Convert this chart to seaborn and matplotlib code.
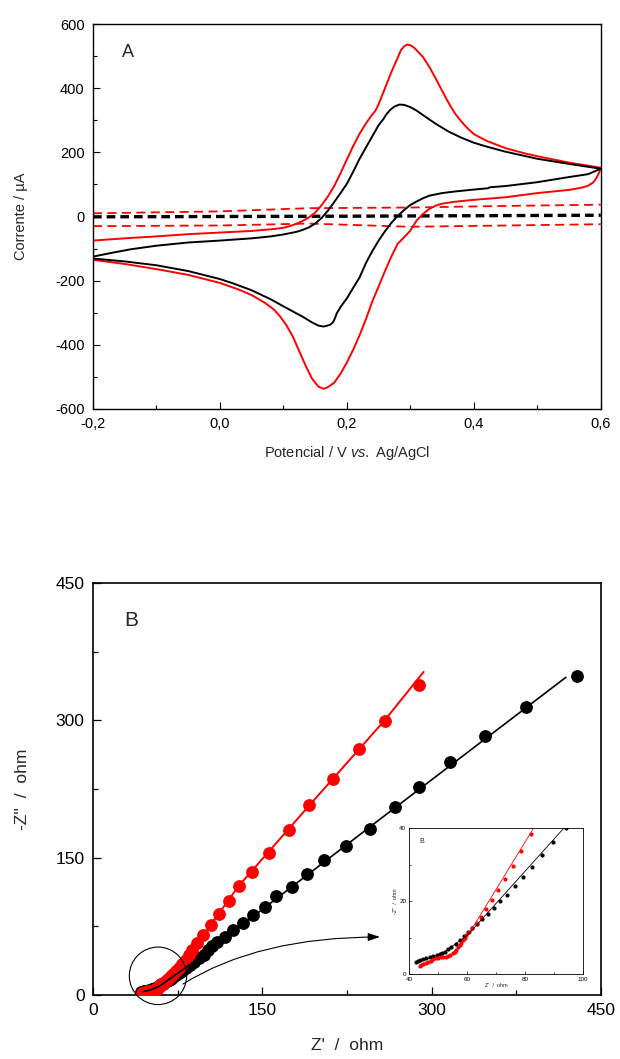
import numpy as np
import pandas as pd
import matplotlib
matplotlib.use('Agg')
import matplotlib.pyplot as plt
from matplotlib.ticker import MultipleLocator, FixedLocator, FuncFormatter
from matplotlib.patches import Ellipse
import seaborn as sns

# ---------------- Panel A data (cyclic voltammetry) ----------------
# black solid (bare electrode) - forward scan
E_black_fwd = [-0.2, -0.17, -0.14, -0.1, -0.05, 0.0, 0.05, 0.08, 0.1, 0.12, 0.13, 0.14, 0.15,
               0.16, 0.17, 0.18, 0.19, 0.2, 0.21, 0.22, 0.23, 0.24, 0.25, 0.258, 0.262,
               0.268, 0.275, 0.283, 0.29, 0.3, 0.31, 0.32, 0.34, 0.36, 0.38, 0.4, 0.42,
               0.45, 0.5, 0.55, 0.6]
I_black_fwd = [-125, -113, -102, -91, -81, -75, -68, -62, -56, -48, -42, -34, -22,
               -5, 18, 45, 73, 102, 140, 180, 215, 250, 285, 305, 318,
               332, 343, 349, 348, 341, 330, 316, 289, 265, 246, 230, 218,
               202, 180, 164, 149]
# black solid - reverse scan
E_black_rev = [0.6, 0.58, 0.55, 0.5, 0.45, 0.425, 0.422, 0.4, 0.37, 0.35, 0.33, 0.32, 0.31,
               0.3, 0.29, 0.28, 0.27, 0.26, 0.25, 0.24, 0.23, 0.22, 0.21, 0.2, 0.19,
               0.184, 0.181, 0.178, 0.174, 0.168, 0.163, 0.155, 0.145, 0.13, 0.115, 0.1,
               0.08, 0.05, 0.02, 0.0, -0.05, -0.1, -0.15, -0.2]
I_black_rev = [149, 132, 123, 107, 95, 91, 88, 84, 78, 73, 65, 57, 47,
               36, 20, 2, -20, -46, -75, -108, -145, -190, -222, -255, -282,
               -302, -318, -330, -337, -341, -343, -340, -330, -312, -296, -280,
               -258, -230, -208, -195, -170, -152, -140, -131]
# red solid (modified electrode) - forward scan
E_red_fwd = [-0.2, -0.15, -0.1, -0.05, 0.0, 0.05, 0.085, 0.1, 0.11, 0.12, 0.13, 0.14, 0.15,
             0.16, 0.17, 0.18, 0.19, 0.2, 0.21, 0.22, 0.23, 0.237, 0.245, 0.25, 0.26, 0.27,
             0.28, 0.285, 0.29, 0.295, 0.3, 0.305, 0.31, 0.32, 0.33, 0.34, 0.35, 0.36,
             0.37, 0.38, 0.39, 0.4, 0.42, 0.45, 0.48, 0.5, 0.55, 0.6]
I_red_fwd = [-75, -68, -62, -55, -50, -45, -39, -35, -30, -23, -14, -3, 12,
             35, 62, 95, 135, 178, 220, 258, 290, 310, 330, 350, 400, 450,
             495, 518, 530, 536, 534, 528, 518, 497, 466, 430, 392, 355,
             322, 297, 275, 257, 236, 213, 197, 188, 168, 152]
# red solid - reverse scan
E_red_rev = [0.6, 0.597, 0.593, 0.588, 0.58, 0.57, 0.55, 0.5, 0.45, 0.4, 0.37, 0.35, 0.34,
             0.33, 0.32, 0.31, 0.3, 0.29, 0.28, 0.27, 0.26, 0.25, 0.24, 0.23, 0.22, 0.21,
             0.2, 0.19, 0.18, 0.17, 0.163, 0.155, 0.145, 0.135, 0.125, 0.115, 0.105,
             0.095, 0.085, 0.07, 0.05, 0.03, 0.0, -0.05, -0.1, -0.15, -0.2]
I_red_rev = [152, 135, 120, 106, 96, 90, 83, 73, 60, 52, 46, 40, 34,
             24, 8, -12, -44, -65, -85, -125, -170, -218, -265, -320, -370, -415,
             -455, -490, -518, -532, -537, -530, -505, -465, -420, -375, -340,
             -312, -290, -268, -245, -228, -207, -182, -164, -148, -135]
# dashed (blank) curves
E_black_dash = [-0.2, 0.2, 0.6]
I_black_dash = [-1, 1, 4]
E_red_dash_up = [-0.2, 0.0, 0.14, 0.3, 0.45, 0.6]
I_red_dash_up = [10, 16, 26, 28, 33, 37]
E_red_dash_lo = [-0.2, 0.0, 0.14, 0.3, 0.45, 0.6]
I_red_dash_lo = [-30, -28, -22, -32, -28, -24]

A_xticks = [-0.2, 0.0, 0.2, 0.4, 0.6]
A_yticks = [-600, -400, -200, 0, 200, 400, 600]

# ---------------- Panel B data (Nyquist) ----------------
zre_black = [42.5, 43.1, 43.7, 44.8, 46.0, 47.1, 48.3, 49.5, 50.6, 51.5, 52.3, 53.4, 54.6,
             56.1, 57.5, 58.9, 60.3, 61.8, 63.4, 65.3, 67.2, 69.2, 71.3, 73.8, 76.4, 79.3,
             82.5, 86.0, 89.7, 94.0, 98.0, 101.5, 105.1, 110.1, 116.9, 124.3, 133.2, 142.0,
             152.4, 162.5, 176.3, 189.5, 204.4, 224.0, 245.3, 267.8, 289.2, 316.0, 347.1,
             383.9, 429.3]
zim_black = [3.4, 3.6, 3.8, 4.1, 4.5, 4.7, 4.9, 5.2, 5.5, 5.8, 6.1, 7.0, 7.5,
             8.2, 9.3, 10.4, 11.6, 12.5, 13.7, 15.0, 16.4, 18.0, 19.9, 21.7, 24.0, 26.5,
             29.3, 32.6, 36.2, 40.0, 44.2, 48.8, 53.6, 58.4, 63.8, 71.2, 78.5, 87.6,
             96.6, 108.0, 118.5, 132.2, 147.1, 162.4, 181.8, 205.2, 227.2, 254.3, 282.8,
             314.3, 349.0]
zre_red = [43.7, 44.3, 44.8, 45.7, 46.6, 47.5, 48.3, 49.2, 50.0, 50.9, 51.7, 52.6, 53.4,
           54.3, 55.2, 55.8, 56.3, 56.9, 57.5, 58.0, 58.6, 59.2, 59.8, 60.8, 61.8, 63.4,
           64.9, 66.7, 68.7, 70.7, 73.2, 75.9, 78.6, 82.2, 84.9, 87.6, 91.8, 97.7, 104.5,
           111.9, 120.5, 129.0, 140.8, 156.3, 173.4, 191.6, 212.4, 235.5, 258.4, 288.5]
zim_red = [2.2, 2.5, 2.7, 3.0, 3.4, 3.7, 4.0, 4.3, 4.5, 4.6, 4.6, 4.7, 4.9,
           5.2, 5.7, 6.1, 6.6, 7.3, 8.0, 8.6, 9.3, 10.0, 10.7, 11.6, 12.5, 13.9,
           15.7, 17.8, 20.3, 22.9, 26.1, 29.7, 33.7, 38.4, 43.8, 49.3, 56.6, 65.7, 76.6,
           88.4, 102.2, 119.5, 134.8, 155.5, 180.0, 207.1, 236.3, 268.9, 299.6, 338.8]
# fitted lines
fit_black_x = [44.0, 52.0, 60.0, 94.0, 250.0, 419.0]
fit_black_y = [3.5, 6.0, 10.5, 40.5, 188.0, 347.0]
fit_red_x = [61.0, 83.0, 129.0, 191.6, 258.4, 293.0]
fit_red_y = [11.5, 40.0, 119.0, 207.0, 300.0, 353.0]

B_ticks = [0, 150, 300, 450]
I_xticks = [40, 60, 80, 100]
I_yticks = [0, 20, 40]

RED = '#ff0000'
BLACK = '#000000'

# ---------------- style ----------------
sns.set_style('ticks')
plt.rcParams['font.family'] = ['Liberation Sans', 'DejaVu Sans']
plt.rcParams['axes.unicode_minus'] = False
plt.rcParams['mathtext.fontset'] = 'custom'
plt.rcParams['mathtext.rm'] = 'Liberation Sans'
plt.rcParams['mathtext.it'] = 'Liberation Sans:italic'

fig = plt.figure(figsize=(6.2, 10.59), dpi=100)
axA = fig.add_axes([0.150, 0.6138, 0.819, 0.3635])
axB = fig.add_axes([0.150, 0.0604, 0.819, 0.389])
axI = fig.add_axes([0.6597, 0.0802, 0.2806, 0.1379])


def line(ax, x, y, color, lw, z=2):
    df = pd.DataFrame({'x': x, 'y': y})
    sns.lineplot(data=df, x='x', y='y', sort=False, estimator=None, color=color,
                 lw=lw, ax=ax, zorder=z, legend=False)
    ln = ax.lines[-1]
    ln.set_solid_joinstyle('round')
    return ln


# ---------------- Panel A ----------------
l = line(axA, E_black_dash, I_black_dash, BLACK, 2.4)
l.set_dashes((2.6, 1.5))
l = line(axA, E_red_dash_up, I_red_dash_up, RED, 1.3)
l.set_dashes((5.0, 3.0))
l = line(axA, E_red_dash_lo, I_red_dash_lo, RED, 1.3)
l.set_dashes((5.0, 3.0))
line(axA, E_red_fwd + E_red_rev, I_red_fwd + I_red_rev, RED, 1.4)
line(axA, E_black_fwd + E_black_rev, I_black_fwd + I_black_rev, BLACK, 1.4)

axA.set_xlim(-0.2, 0.6)
axA.set_ylim(-600, 600)
axA.xaxis.set_major_locator(FixedLocator(A_xticks))
axA.xaxis.set_minor_locator(MultipleLocator(0.1))
axA.yaxis.set_major_locator(FixedLocator(A_yticks))
axA.yaxis.set_minor_locator(MultipleLocator(100))
axA.xaxis.set_major_formatter(FuncFormatter(lambda v, p: f'{round(v, 1) + 0.0:.1f}'.replace('.', ',')))
axA.yaxis.set_major_formatter(FuncFormatter(lambda v, p: f'{int(round(v))}'))
axA.tick_params(which='both', direction='in', top=False, right=False, width=0.8,
                labelsize=10.5, colors='black')
axA.tick_params(which='major', length=5, pad=6)
axA.tick_params(which='minor', length=3)
for s in axA.spines.values():
    s.set_linewidth(1.0)
    s.set_color('black')
axA.set_xlabel(r'Potencial / V $\mathit{vs.}$ Ag/AgCl', fontsize=10.5)
axA.set_ylabel('Corrente / µA', fontsize=10.5)
axA.xaxis.set_label_coords(0.5, -0.092)
axA.yaxis.set_label_coords(-0.128, 0.5)
axA.text(0.069, 0.927, 'A', transform=axA.transAxes, fontsize=13, ha='center', va='center')

# ---------------- Panel B ----------------
sns.scatterplot(x=zre_black, y=zim_black, color=BLACK, s=85, linewidth=0, ax=axB,
                zorder=3, legend=False)
sns.scatterplot(x=zre_red, y=zim_red, color=RED, s=85, linewidth=0, ax=axB,
                zorder=4, legend=False)
line(axB, fit_red_x, fit_red_y, RED, 1.4, z=5)
line(axB, fit_black_x, fit_black_y, BLACK, 1.2, z=6)

axB.set_xlim(0, 450)
axB.set_ylim(0, 450)
axB.xaxis.set_major_locator(FixedLocator(B_ticks))
axB.yaxis.set_major_locator(FixedLocator(B_ticks))
axB.xaxis.set_minor_locator(MultipleLocator(75))
axB.yaxis.set_minor_locator(MultipleLocator(75))
axB.tick_params(which='both', direction='in', top=False, right=False, width=0.9,
                labelsize=12.5, colors='black')
axB.tick_params(which='major', length=6, pad=6)
axB.tick_params(which='minor', length=3.5)
for s in axB.spines.values():
    s.set_linewidth(1.2)
    s.set_color('black')
axB.set_xlabel("Z'  /  ohm", fontsize=12.5)
axB.set_ylabel("-Z''  /  ohm", fontsize=12.5)
axB.xaxis.set_label_coords(0.5, -0.105)
axB.yaxis.set_label_coords(-0.125, 0.5)
axB.text(0.075, 0.908, 'B', transform=axB.transAxes, fontsize=15, ha='center', va='center')

# magnifier circle and arrow
circ = Ellipse((57.6, 21.0), width=50.8, height=62.8, fill=False, lw=0.8,
               ec='black', clip_on=False, zorder=7)
axB.add_patch(circ)
axB.annotate('', xy=(380, 122), xycoords='figure pixels',
             xytext=(183, 75), textcoords='figure pixels',
             arrowprops=dict(arrowstyle='-|>,head_length=0.6,head_width=0.2',
                             connectionstyle='angle3,angleA=32,angleB=0',
                             lw=0.8, color='black', shrinkA=0, shrinkB=0,
                             mutation_scale=12))

# ---------------- Inset ----------------
sns.scatterplot(x=zre_black, y=zim_black, color=BLACK, s=9, linewidth=0, ax=axI,
                zorder=3, legend=False)
sns.scatterplot(x=zre_red, y=zim_red, color=RED, s=9, linewidth=0, ax=axI,
                zorder=4, legend=False)
line(axI, fit_red_x, fit_red_y, RED, 0.6, z=5)
line(axI, fit_black_x, fit_black_y, BLACK, 0.6, z=6)
axI.set_xlim(40, 100)
axI.set_ylim(0, 40)
axI.xaxis.set_major_locator(FixedLocator(I_xticks))
axI.yaxis.set_major_locator(FixedLocator(I_yticks))
axI.xaxis.set_minor_locator(MultipleLocator(10))
axI.yaxis.set_minor_locator(MultipleLocator(10))
axI.tick_params(which='both', direction='in', top=False, right=False, width=0.5,
                labelsize=4.5, colors='black', pad=2)
axI.tick_params(which='major', length=2.5)
axI.tick_params(which='minor', length=1.5)
for s in axI.spines.values():
    s.set_linewidth(0.6)
    s.set_color('black')
axI.set_xlabel("Z'  /  ohm", fontsize=4, labelpad=1)
axI.set_ylabel("-Z''  /  ohm", fontsize=4, labelpad=1)
axI.text(0.073, 0.91, 'B', transform=axI.transAxes, fontsize=5, ha='center', va='center')

fig.savefig('out.png', dpi=100)
